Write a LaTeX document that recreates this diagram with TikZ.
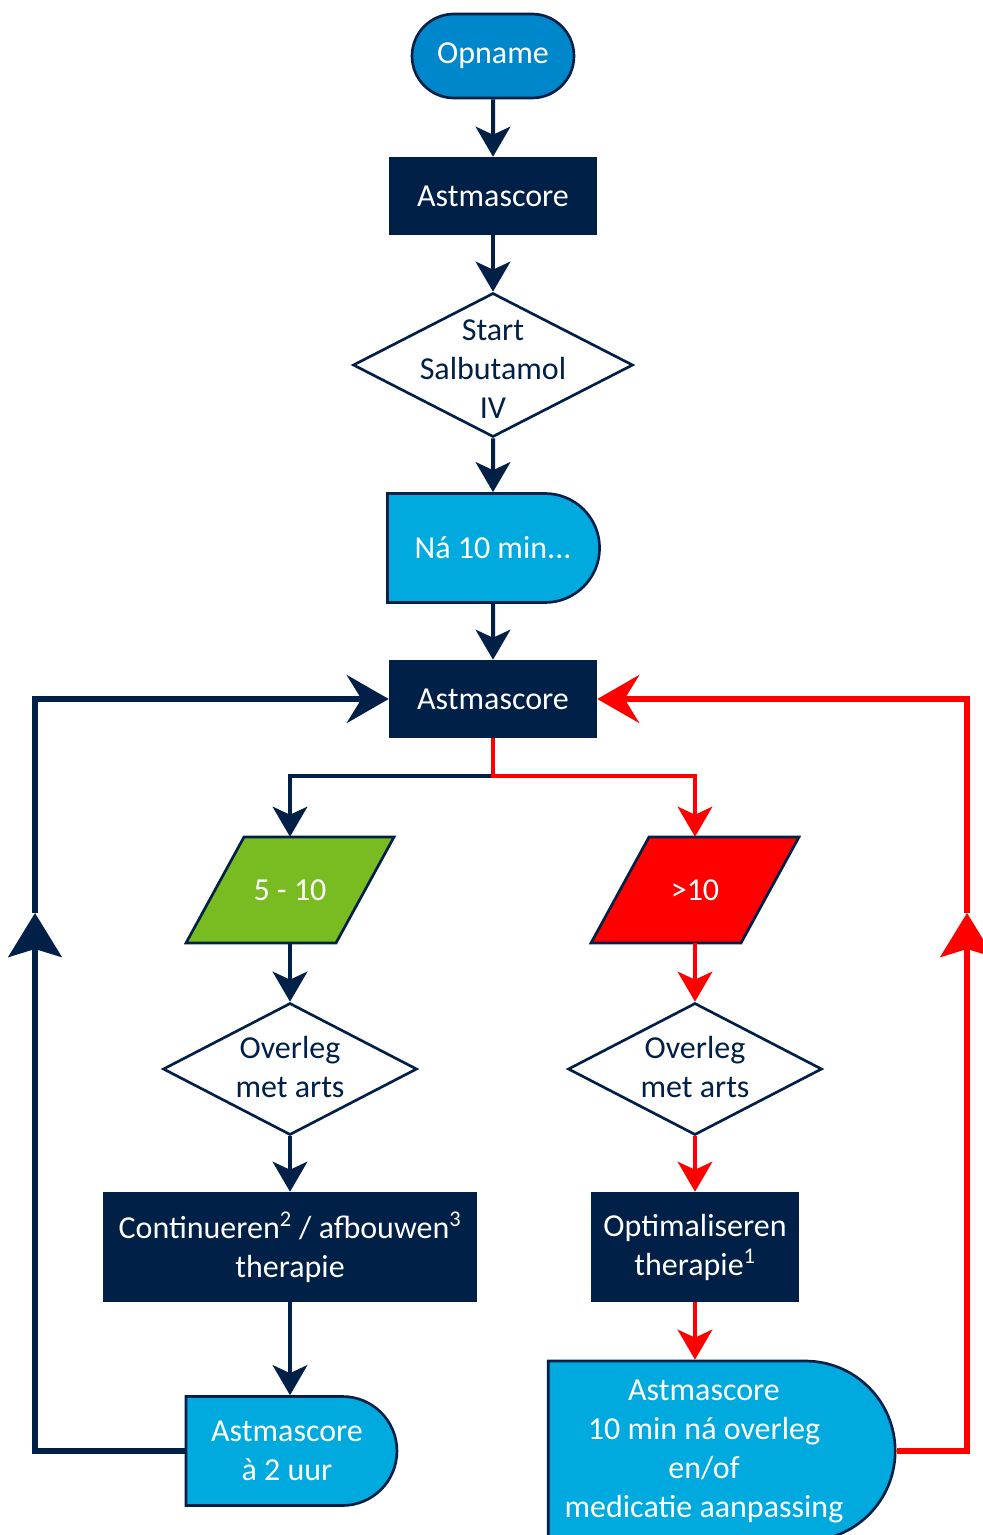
\documentclass[tikz,border=0pt]{standalone}
\usepackage{fontspec}
\setmainfont{Carlito}
\usetikzlibrary{arrows.meta,shapes.geometric,shapes.misc}
\definecolor{navy}{RGB}{0,32,71}
\definecolor{opblue}{RGB}{0,134,202}
\definecolor{skyblue}{RGB}{0,170,223}
\definecolor{scoregreen}{RGB}{120,188,34}
\definecolor{alarmred}{RGB}{255,0,0}

\begin{document}
\begin{tikzpicture}[x=0.75pt,y=-0.75pt,
  txt/.style={font=\fontsize{24}{29.25}\selectfont, align=center, inner sep=0pt},
  startbox/.style={txt, rounded rectangle, draw=navy, line width=2pt, fill=opblue, text=white, minimum width=121.5pt, minimum height=63pt},
  procbox/.style={txt, rectangle, fill=navy, text=white, minimum height=58.5pt},
  waitbox/.style={txt, rounded rectangle, rounded rectangle left arc=none, draw=navy, line width=2pt, fill=skyblue, text=white},
  choice/.style={diamond, draw=navy, line width=2pt, fill=white, inner sep=0pt},
  choicetext/.style={txt, text=navy},
  rangebox/.style={txt, text=white, minimum width=112.5pt, minimum height=79.5pt},
  slanted/.style={draw=navy, line width=2pt, line join=miter},
  conn/.style={draw=navy, line width=3pt, -{Stealth[length=22.5pt, width=26pt, inset=6pt]}},
  loopline/.style={draw=navy, line width=4.2pt},
  midtip/.style={-{Stealth[length=33pt, width=40pt, inset=6pt]}},
  endtip/.style={-{Stealth[length=31.5pt, width=36pt, inset=11pt]}}]
\useasboundingbox (0,0) rectangle (982,1535);
\node[startbox] (op) at (493,56) {Opname};
\node[procbox, minimum width=156pt] (a1) at (493,196) {Astmascore};
\node[choice, minimum width=210pt, minimum height=108pt, label={[choicetext, yshift=-3pt]center:Start\\Salbutamol\\IV}] (st) at (493,365) {};
\node[waitbox, minimum width=159pt, minimum height=81.75pt] (wt) at (493,548) {Ná 10 min...};
\node[procbox, minimum width=156pt] (a2) at (493,699) {Astmascore};
\coordinate (split) at (493,776);
\coordinate (loc) at (290,890);
\coordinate (hic) at (695,890);
\filldraw[slanted, fill=scoregreen] ([shift={(-104,53)}]loc) -- ++(150,0) -- ++(58,-106) -- ++(-150,0) -- cycle;
\filldraw[slanted, fill=alarmred] ([shift={(-104,53)}]hic) -- ++(150,0) -- ++(58,-106) -- ++(-150,0) -- cycle;
\node[rangebox] (lo) at (loc) {5 - 10};
\node[rangebox] (hi) at (hic) {>10};
\node[choice, minimum width=190.5pt, minimum height=99pt, label={[choicetext, yshift=1.5pt]center:Overleg\\met arts}] (ovl) at (290,1069) {};
\node[choice, minimum width=190.5pt, minimum height=99pt, label={[choicetext, yshift=1.5pt]center:Overleg\\met arts}] (ovr) at (695,1069) {};
\node[procbox, minimum width=280.5pt, minimum height=82.5pt] (cl) at (290,1247) {Continueren\textsuperscript{2} / afbouwen\textsuperscript{3}\\therapie};
\node[procbox, minimum width=156pt, minimum height=82.5pt] (cr) at (695,1247) {Optimaliseren\\therapie\textsuperscript{1}};
\node[waitbox, minimum width=158.25pt, minimum height=81.75pt] (dl) at (287,1451) {Astmascore\\à 2 uur};
\node[waitbox, minimum width=260.25pt, minimum height=135pt] (dr) at (704,1451) {Astmascore\\10 min ná overleg\\en/of\\medicatie aanpassing};
\coordinate (lmid) at (35,913);
\coordinate (rmid) at (967,913);

\draw[conn] (op) -- (a1);
\draw[conn] (a1) -- (st);
\draw[conn] (st) -- (wt);
\draw[conn] (wt) -- (a2);
\draw[conn] (a2.south) -- (split) -| (lo.north);
\draw[conn, draw=alarmred] (a2.south) -- (split) -| (hi.north);
\draw[conn] (lo) -- (ovl);
\draw[conn] (ovl) -- (cl);
\draw[conn] (cl.south) -- (cl.south |- dl.north);
\draw[conn, draw=alarmred] (hi) -- (ovr);
\draw[conn, draw=alarmred] (ovr) -- (cr);
\draw[conn, draw=alarmred] (cr.south) -- (cr.south |- dr.north);
\draw[loopline, midtip] (dl.west) -| (lmid);
\draw[loopline, endtip] (lmid) |- (a2.west);
\draw[loopline, draw=alarmred, midtip] (dr.east) -| (rmid);
\draw[loopline, draw=alarmred, endtip] (rmid) |- (a2.east);
\end{tikzpicture}
\end{document}
